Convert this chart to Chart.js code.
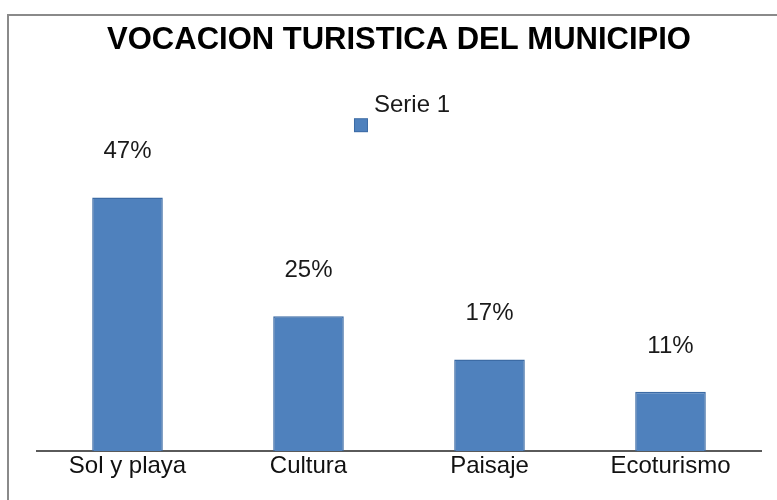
<!DOCTYPE html>
<html>
<head>
<meta charset="utf-8">
<script src="https://cdn.jsdelivr.net/npm/chart.js@4"></script>
<style>
    html, body { margin: 0; padding: 0; background: #fff; overflow: hidden; width: 777px; height: 500px; }
    #frame {
        position: absolute; left: 7px; top: 14px;
        border-top: 2px solid #8a8a8a; border-left: 2px solid #8a8a8a;
    }
    #frame canvas { display: block; }
</style>
</head>
<body>
<div id="frame"><canvas id="vocacion_chart" width="777" height="484"></canvas></div>
<script>
const categories = ["Sol y playa", "Cultura", "Paisaje", "Ecoturismo"];
const serieValues = [47, 25, 17, 11];
const serieName = "Serie 1";
const chartTitle = "VOCACION TURISTICA DEL MUNICIPIO";

const barColor = "#4f81bd";
const barEdge = "#3c6ba5";
const fontFamily = "'Liberation Sans', Arial, sans-serif";

// empty marker keeps the legend spacing; the square is drawn lower by the plugin below
const blankMarker = document.createElement("canvas");
blankMarker.width = 14;
blankMarker.height = 14;

// legend square sits below the text line, as in the original
const lowMarker = {
    id: "lowMarker",
    afterDraw(chart) {
        const boxes = chart.legend.legendHitBoxes;
        if (!boxes || !boxes.length) return;
        const b = boxes[0];
        const ctx = chart.ctx;
        ctx.save();
        ctx.fillStyle = barEdge;
        ctx.fillRect(b.left + 6, b.top + b.height / 2 + 13, 14, 14);
        ctx.fillStyle = barColor;
        ctx.fillRect(b.left + 7, b.top + b.height / 2 + 14, 12, 12);
        ctx.restore();
    }
};

// percentage labels above each bar
const valueLabels = {
    id: "valueLabels",
    afterDatasetsDraw(chart) {
        const ctx = chart.ctx;
        ctx.save();
        ctx.font = "24px " + fontFamily;
        ctx.fillStyle = "#1a1a1a";
        ctx.textAlign = "center";
        ctx.textBaseline = "alphabetic";
        chart.getDatasetMeta(0).data.forEach((bar, i) => {
            ctx.fillText(serieValues[i] + "%", bar.x, bar.y - 39);
        });
        ctx.restore();
    }
};

const ctx = document.getElementById("vocacion_chart").getContext("2d");
const vocacion_chart = new Chart(ctx, {
    type: "bar",
    data: {
        labels: categories,
        datasets: [{
            label: serieName,
            data: serieValues,
            backgroundColor: barColor,
            borderColor: barEdge,
            borderWidth: 1.5,
            categoryPercentage: 1,
            barPercentage: 0.39,
        }]
    },
    options: {
        responsive: false,
        animation: false,
        events: [],
        layout: { padding: { left: 28, right: 25, top: 0, bottom: 18 } },
        plugins: {
            title: {
                display: true,
                text: chartTitle,
                color: "#000",
                font: { family: fontFamily, size: 31, weight: "bold" },
                padding: { top: 6, bottom: 24 },
            },
            legend: {
                position: "top",
                labels: {
                    usePointStyle: true,
                    pointStyle: blankMarker,
                    boxWidth: 14,
                    padding: 10,
                    color: "#1a1a1a",
                    font: { family: fontFamily, size: 24 },
                },
            },
            tooltip: { enabled: false },
        },
        scales: {
            x: {
                grid: { display: false, drawTicks: false },
                border: { display: true, color: "#5a5a5a", width: 2 },
                ticks: { color: "#111", padding: 1, font: { family: fontFamily, size: 24 } },
            },
            y: {
                display: false,
                min: 0,
                max: 60,
            }
        },
    },
    plugins: [valueLabels, lowMarker],
});
</script>
</body>
</html>
